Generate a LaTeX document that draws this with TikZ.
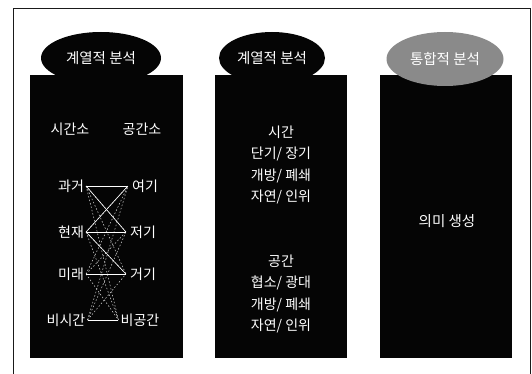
\documentclass[tikz,border=0pt]{standalone}
\usepackage{fontspec}
\setmainfont{Noto Sans CJK KR}
\usepackage{xcolor}
\definecolor{panelBlack}{HTML}{050505}
\definecolor{tagGray}{HTML}{8A8A8A}
\definecolor{frameGray}{HTML}{1A1A1A}
\usepackage{tikz}
\usetikzlibrary{shapes.geometric,positioning,calc}
\tikzset{
    panel/.style={
        fill=panelBlack,
        draw=none,
        rectangle
    },
    tag/.style={
        fill=panelBlack,
        ellipse,
        inner sep=0pt,
        text=white,
        font=\fontsize{14.5}{14.5}\selectfont
    },
    word/.style={
        text=white,
        inner sep=2pt,
        font=\fontsize{14}{14}\selectfont
    },
    list/.style={
        text=white,
        align=center,
        font=\fontsize{14}{21.5}\selectfont
    },
    link/.style={
        draw=white,
        line width=0.6pt
    },
    weak/.style={
        draw=white!85!black,
        line width=0.5pt,
        dash pattern=on 1.5pt off 2pt
    }
}

\begin{document}
\begin{tikzpicture}[x=1pt,y=-1pt]
    \useasboundingbox (0,0) rectangle (532,374);
    \draw[frameGray, line width=0.8pt] (13,380) -- (13,8) -- (530,8) -- (530,380);

    % three columns
    \node[panel, minimum width=153pt, minimum height=283pt] (col1) at (106.5,216.5) {};
    \node[panel, minimum width=132pt, minimum height=283pt] (col2) at (281,216.5) {};
    \node[panel, minimum width=132pt, minimum height=283pt] (col3) at (446,216.5) {};

    \node[tag, minimum width=120pt, minimum height=52pt] (head1) at (101,58) {계열적 분석};
    \node[tag, minimum width=106pt, minimum height=52pt] (head2) at (272,58) {계열적 분석};
    \node[tag, fill=tagGray, minimum width=117pt, minimum height=54pt] (head3) at (445,59) {통합적 분석};

    % first column
    \node[word] (time) at (70,129) {시간소};
    \node[word] (space) at (142,129) {공간소};

    \node[word] (past) at (71,186) {과거};
    \node[word] (now) at (71,232) {현재};
    \node[word] (future) at (71,274) {미래};
    \node[word] (notime) at (66,320) {비시간};
    \node[word, inner sep=4pt] (here) at (145,186) {여기};
    \node[word, inner sep=4pt] (there) at (143,232) {저기};
    \node[word, inner sep=4pt] (yonder) at (143,274) {거기};
    \node[word] (nospace) at (140,320) {비공간};

    \foreach \a in {past,now,future,notime}
        \foreach \b in {here,there,yonder,nospace}
            \draw[weak] (\a.east) -- (\b.west);

    \draw[link] (past.east) -- (here.west);
    \draw[link] (past.east) -- (there.west);
    \draw[link] (now.east) -- (here.west);
    \draw[link] (now.east) -- (there.west);
    \draw[link] (now.east) -- (yonder.west);
    \draw[link] (future.east) -- (yonder.west);
    \draw[link] (notime.east) -- (nospace.west);

    % second column
    \node[list] (timelist) at (281,165) {시간\\단기/ 장기\\개방/ 폐쇄\\자연/ 인위};
    \node[list] (spacelist) at (281,294) {공간\\협소/ 광대\\개방/ 폐쇄\\자연/ 인위};

    % third column
    \node[word, font=\fontsize{14.5}{14.5}\selectfont] (meaning) at (447,221) {의미 생성};
\end{tikzpicture}
\end{document}
